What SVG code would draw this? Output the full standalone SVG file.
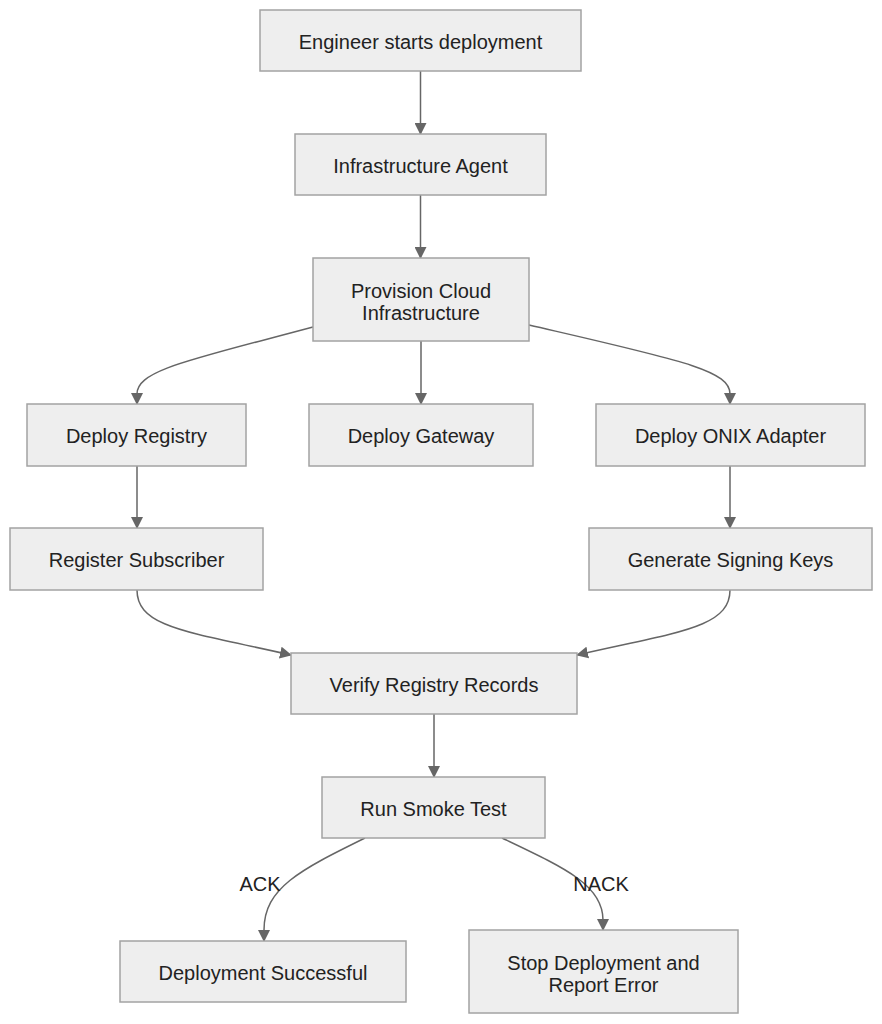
<svg xmlns="http://www.w3.org/2000/svg" width="882" height="1024" viewBox="0 0 882 1024">
<style>
.n rect{fill:#eeeeee;stroke:#a3a3a3;stroke-width:1.5}
.n text,.lbl{font-family:"Liberation Sans",Arial,sans-serif;font-size:20px;fill:#222;text-anchor:middle}
.e path{fill:none;stroke:#666;stroke-width:1.5;marker-end:url(#ah)}
</style>
<defs>
<marker id="ah" markerUnits="userSpaceOnUse" markerWidth="12" markerHeight="12" viewBox="0 0 12 12" refX="11" refY="6" orient="auto">
<path d="M0,0 L12,6 L0,12 z" fill="#666"/>
</marker>
</defs>
<rect width="882" height="1024" fill="#fff"/>
<g class="e" id="connectors">
<path d="M420.5,71 L420.5,134"/>
<path d="M420.5,195 L420.5,258"/>
<path d="M313,327 C190,360 137,370 137,394 L137,404"/>
<path d="M421,341 L421,404"/>
<path d="M529,325 C680,360 730,370 730,394 L730,404"/>
<path d="M137,466 L137,528"/>
<path d="M730,466 L730,528"/>
<path d="M137,590 C137,628 190,632 291,655"/>
<path d="M730,590 C730,628 677,632 577,655"/>
<path d="M434,714 L434,777"/>
<path d="M365,838 C300,870 264,888 264,930 L264,941"/>
<path d="M502,838 C565,868 603,885 603,920 L603,930"/>
</g>
<text class="lbl" x="260" y="891">ACK</text>
<text class="lbl" x="601" y="891">NACK</text>
<g class="n" id="start"><rect x="260" y="10" width="321" height="61"/><text x="420.5" y="49">Engineer starts deployment</text></g>
<g class="n" id="agent"><rect x="295" y="134" width="251" height="61"/><text x="420.5" y="173">Infrastructure Agent</text></g>
<g class="n" id="provision"><rect x="313" y="258" width="216" height="83"/><text x="421" y="298">Provision Cloud</text><text x="421" y="320">Infrastructure</text></g>
<g class="n" id="registry"><rect x="27" y="404" width="219" height="62"/><text x="136.5" y="443">Deploy Registry</text></g>
<g class="n" id="gateway"><rect x="309" y="404" width="224" height="62"/><text x="421" y="443">Deploy Gateway</text></g>
<g class="n" id="onix"><rect x="596" y="404" width="269" height="62"/><text x="730.5" y="443">Deploy ONIX Adapter</text></g>
<g class="n" id="subscriber"><rect x="10" y="528" width="253" height="62"/><text x="136.5" y="567">Register Subscriber</text></g>
<g class="n" id="keys"><rect x="589" y="528" width="283" height="62"/><text x="730.5" y="567">Generate Signing Keys</text></g>
<g class="n" id="verify"><rect x="291" y="653" width="286" height="61"/><text x="434" y="692">Verify Registry Records</text></g>
<g class="n" id="smoke"><rect x="322" y="777" width="223" height="61"/><text x="433.5" y="816">Run Smoke Test</text></g>
<g class="n" id="success"><rect x="120" y="941" width="286" height="61"/><text x="263" y="980">Deployment Successful</text></g>
<g class="n" id="fail"><rect x="469" y="930" width="269" height="83"/><text x="603.5" y="970">Stop Deployment and</text><text x="603.5" y="992">Report Error</text></g>
</svg>
